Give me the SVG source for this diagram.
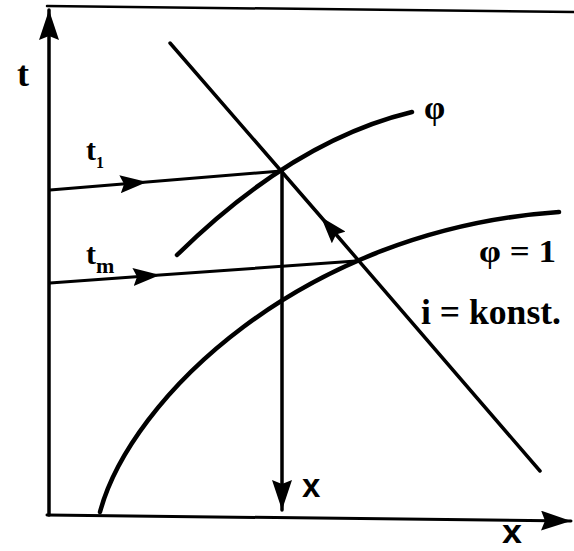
<svg xmlns="http://www.w3.org/2000/svg" width="574" height="551" viewBox="0 0 574 551">
<style>
.ln{fill:none;stroke:#000;stroke-linecap:round;stroke-linejoin:round}
.lbl{font-family:"Liberation Serif","Times New Roman",serif;font-weight:bold;fill:#000}
.sans{font-family:"Liberation Sans",Arial,sans-serif;font-weight:bold;fill:#000}
</style>
<defs>
<marker id="ah" markerUnits="userSpaceOnUse" markerWidth="30" markerHeight="20" refX="30" refY="10" orient="auto" viewBox="0 0 30 20">
<path d="M0,0 L30,10 L0,20 L4,10 Z" fill="#000"/>
</marker>
<marker id="ahs" markerUnits="userSpaceOnUse" markerWidth="27" markerHeight="18" refX="27" refY="9" orient="auto" viewBox="0 0 27 18">
<path d="M0,0 L27,9 L0,18 L4,9 Z" fill="#000"/>
</marker>
</defs>
<g id="frame">
<path class="ln" d="M47,6 L574,12" stroke-width="2.5"/>
</g>
<g id="axes">
<path class="ln" d="M49,515 L49,10" stroke-width="3.5" marker-end="url(#ah)"/>
<path class="ln" d="M47,515 L571,521" stroke-width="3" marker-end="url(#ah)"/>
</g>
<g id="curves">
<path id="phi-curve" class="ln" d="M177,255 Q293.5,140.5 412,112" stroke-width="4.5"/>
<path id="phi1-curve" class="ln" d="M100,512 C130,400 300,230 559,212" stroke-width="4.5"/>
</g>
<g id="connectors">
<path class="ln" d="M540,471 L321,217 L170,43" stroke-width="3.5" marker-mid="url(#ahs)"/>
<path class="ln" d="M50,190 L147,182 L281,171" stroke-width="3" marker-mid="url(#ahs)"/>
<path class="ln" d="M50,283 L160,275 L356,261" stroke-width="3" marker-mid="url(#ahs)"/>
<path class="ln" d="M282,171 L282,510" stroke-width="3.5" marker-end="url(#ah)"/>
</g>
<g id="labels">
<text class="lbl" x="17" y="86" font-size="36">t</text>
<text class="lbl" x="86" y="160" font-size="30">t<tspan font-size="16" dy="8">1</tspan></text>
<text class="lbl" x="86" y="264" font-size="30">t<tspan font-size="22" dy="9">m</tspan></text>
<text class="lbl" x="424" y="119" font-size="34">φ</text>
<text class="lbl" x="479" y="262" font-size="31" textLength="77" lengthAdjust="spacingAndGlyphs">φ = 1</text>
<text class="lbl" x="421" y="324" font-size="35" textLength="140" lengthAdjust="spacingAndGlyphs">i = konst.</text>
<text class="sans" x="302" y="497" font-size="33">x</text>
<text class="sans" x="502" y="543" font-size="34" textLength="20" lengthAdjust="spacingAndGlyphs">x</text>
</g>
</svg>
